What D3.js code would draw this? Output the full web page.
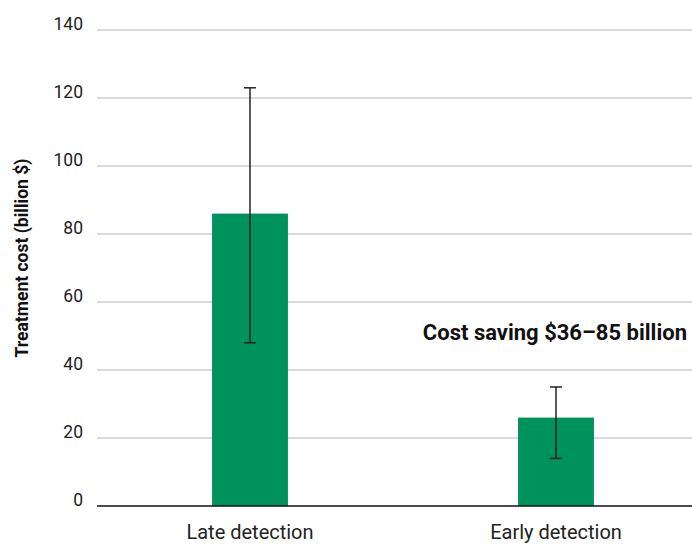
<!DOCTYPE html>
<html><head><meta charset="utf-8">
<script src="https://cdn.jsdelivr.net/npm/d3@7"></script>
<style>body{margin:0;background:#fff}svg{display:block;font-family:Roboto,"Noto Sans",sans-serif}</style>
</head><body><svg id="c" width="692" height="545"></svg>
<script>
const categories = ["Late detection", "Early detection"];
const values = [86, 26];
const lowErr = [48, 14];
const highErr = [123, 35];
const yTicks = [0, 20, 40, 60, 80, 100, 120, 140];
const yTitle = "Treatment cost (billion $)";
const annotation = "Cost saving $36–85 billion";

const svg = d3.select("#c");
const x = d3.scaleBand().domain(categories).range([97, 709]).paddingInner(0.752).paddingOuter(0.376);
const y = d3.scaleLinear().domain([0, 140]).range([506, 30]);

// grid
svg.append("g").selectAll("line").data(yTicks.filter(d => d > 0)).join("line")
  .attr("x1", 97).attr("x2", 692).attr("y1", d => y(d)).attr("y2", d => y(d))
  .attr("stroke", "#cfcfcf").attr("stroke-width", 1.3);

// y axis labels
const yAxis = svg.append("g").attr("transform", "translate(83,0)")
  .call(d3.axisLeft(y).tickValues(yTicks).tickSize(0).tickPadding(0));
yAxis.select(".domain").remove();
yAxis.selectAll("text").attr("font-size", 17.5).attr("fill", "#222")
  .attr("font-family", "Roboto, sans-serif").attr("dy", "-0.05em");

// bars
svg.append("g").selectAll("rect").data(values).join("rect")
  .attr("x", (d, i) => x(categories[i])).attr("width", x.bandwidth())
  .attr("y", d => y(d)).attr("height", d => y(0) - y(d))
  .attr("fill", "#00925d");

// baseline
svg.append("line").attr("x1", 97).attr("x2", 692).attr("y1", y(0)).attr("y2", y(0))
  .attr("stroke", "#111").attr("stroke-width", 1.5);

// error bars
const eb = svg.append("g").attr("stroke", "#222").attr("stroke-width", 1.5);
categories.forEach((c, i) => {
  const cx = x(c) + x.bandwidth() / 2;
  eb.append("line").attr("x1", cx).attr("x2", cx).attr("y1", y(lowErr[i])).attr("y2", y(highErr[i]));
  eb.append("line").attr("x1", cx - 6).attr("x2", cx + 6).attr("y1", y(lowErr[i])).attr("y2", y(lowErr[i]));
  eb.append("line").attr("x1", cx - 6).attr("x2", cx + 6).attr("y1", y(highErr[i])).attr("y2", y(highErr[i]));
});

// x axis labels
const xAxis = svg.append("g").attr("transform", `translate(0,${y(0)})`)
  .call(d3.axisBottom(x).tickSize(0).tickPadding(0));
xAxis.select(".domain").remove();
xAxis.selectAll("text").attr("font-size", 20).attr("fill", "#222")
  .attr("font-family", "Roboto, sans-serif").attr("y", 33).attr("dy", 0);

// y title
svg.append("text").attr("transform", "translate(28,258) rotate(-90)")
  .attr("text-anchor", "middle").attr("font-size", 17.5).attr("font-weight", "bold")
  .attr("fill", "#111").text(yTitle);

// annotation
svg.append("text").attr("x", 687).attr("y", 340).attr("text-anchor", "end")
  .attr("font-size", 22).attr("font-weight", "bold").attr("fill", "#111").text(annotation);
</script></body></html>
